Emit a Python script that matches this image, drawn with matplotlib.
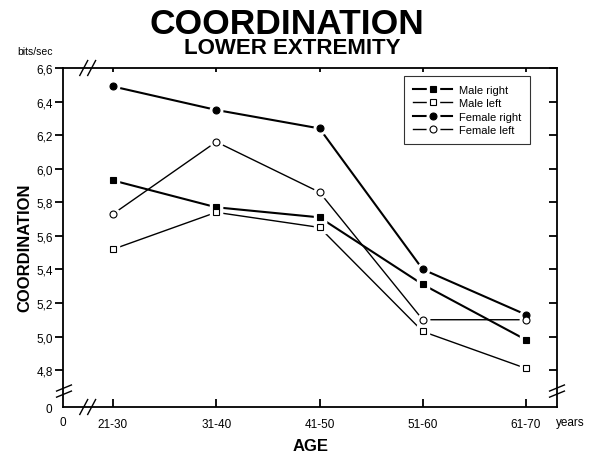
import matplotlib.pyplot as plt
from matplotlib.lines import Line2D
from matplotlib.legend_handler import HandlerTuple

plt.rcParams['font.family'] = ['Liberation Sans', 'DejaVu Sans']

age_groups = ['21-30', '31-40', '41-50', '51-60', '61-70']
male_right = [5.93, 5.77, 5.71, 5.31, 4.98]
male_left = [5.52, 5.74, 5.65, 5.03, 4.81]
female_right = [6.49, 6.35, 6.24, 5.40, 5.13]
female_left = [5.73, 6.16, 5.86, 5.10, 5.10]

y_ticks = [4.8, 5.0, 5.2, 5.4, 5.6, 5.8, 6.0, 6.2, 6.4, 6.6]
y_floor = 4.58  # where the broken axis shows "0"

series = [
    ('Male right', male_right, 's', 'black', 1.5),
    ('Male left', male_left, 's', 'white', 1.0),
    ('Female right', female_right, 'o', 'black', 1.5),
    ('Female left', female_left, 'o', 'white', 1.0),
]

fig = plt.figure(figsize=(5.95, 4.6), dpi=100)
ax = fig.add_axes([63 / 595, 52 / 460, 494 / 595, 339 / 460])

x = list(range(1, len(age_groups) + 1))
handles = []
for label, vals, mk, face, lw in series:
    ms = 4.5 if mk == 's' else 5
    ax.plot(x, vals, color='black', linewidth=lw, zorder=2)
    # white halo leaves a small gap between the line and the marker
    ax.plot(x, vals, linestyle='none', marker=mk, markersize=ms + 4,
            markerfacecolor='white', markeredgecolor='white', zorder=3)
    ax.plot(x, vals, linestyle='none', marker=mk, markersize=ms,
            markerfacecolor=face, markeredgecolor='black',
            markeredgewidth=0.8, zorder=4)
    h_line = Line2D([0], [0], color='black', linewidth=lw)
    h_halo = Line2D([0], [0], linestyle='none', marker=mk, markersize=ms + 4,
                    markerfacecolor='white', markeredgecolor='white')
    h_mark = Line2D([0], [0], linestyle='none', marker=mk, markersize=ms,
                    markerfacecolor=face, markeredgecolor='black',
                    markeredgewidth=0.8)
    handles.append(((h_line, h_halo, h_mark), label))

ax.set_xlim(0.516, 5.3)
ax.set_ylim(y_floor, 6.6)

ax.set_xticks(x)
ax.set_xticklabels(age_groups, fontsize=8.5)
ax.set_yticks([y_floor] + y_ticks)
ax.set_yticklabels(['0'] + [f'{t:.1f}'.replace('.', ',') for t in y_ticks], fontsize=8.5)

for s in ax.spines.values():
    s.set_linewidth(1.3)

ax.tick_params(axis='y', which='both', direction='out', length=5.5, width=1.3, pad=2,
               right=True)
ax.tick_params(axis='x', direction='in', length=6, width=1.3, pad=8, top=True)
# ticks on the right and top point inward
for t in ax.yaxis.get_major_ticks():
    t.tick2line.set_marker(0)  # TICKLEFT
    t.tick2line.set_markersize(6)
ax.yaxis.get_major_ticks()[0].tick1line.set_visible(False)
ax.yaxis.get_major_ticks()[0].tick2line.set_visible(False)
for t in ax.xaxis.get_major_ticks():
    t.tick2line.set_markersize(3)

# axis break marks
brk = dict(color='black', linewidth=1.0, clip_on=False, transform=ax.transAxes, zorder=5)
for dx in (-0.008, 0.008):
    ax.plot([0.042 + dx, 0.058 + dx], [-0.022, 0.022], **brk)
    ax.plot([0.042 + dx, 0.058 + dx], [0.978, 1.022], **brk)
for dy in (-0.009, 0.009):
    ax.plot([-0.013, 0.017], [0.047 + dy - 0.009, 0.047 + dy + 0.009], **brk)
    ax.plot([0.985, 1.015], [0.047 + dy - 0.009, 0.047 + dy + 0.009], **brk)

leg = ax.legend([h for h, _ in handles], [l for _, l in handles],
                handler_map={tuple: HandlerTuple(ndivide=1, pad=0)},
                loc='upper right', bbox_to_anchor=(0.945, 0.976),
                borderaxespad=0, fontsize=8, frameon=True, fancybox=False,
                handlelength=3.5, handletextpad=0.6, labelspacing=0.3,
                borderpad=0.8)
leg.get_frame().set_edgecolor('black')
leg.get_frame().set_linewidth(0.8)

fig.text(287 / 595, 1 - 24 / 460, 'COORDINATION', ha='center', va='center',
         fontsize=25.5, fontweight='bold')
fig.text(292 / 595, 1 - 49 / 460, 'LOWER EXTREMITY', ha='center', va='center',
         fontsize=16, fontweight='bold')
fig.text(35 / 595, 1 - 52 / 460, 'bits/sec', ha='center', va='center', fontsize=7.5)
fig.text(63 / 595, 1 - 423 / 460, '0', ha='center', va='center', fontsize=8.5)
fig.text(570 / 595, 1 - 423 / 460, 'years', ha='center', va='center', fontsize=8.5)
fig.text(311 / 595, 1 - 447 / 460, 'AGE', ha='center', va='center',
         fontsize=12, fontweight='bold')
fig.text(25 / 595, 1 - 248 / 460, 'COORDINATION', ha='center', va='center',
         rotation=90, fontsize=12, fontweight='bold')

fig.savefig('out.png', dpi=100)
